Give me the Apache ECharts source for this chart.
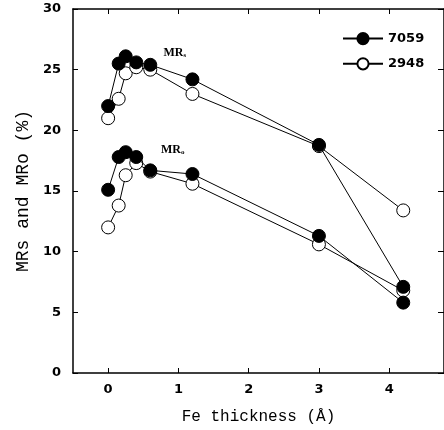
<!DOCTYPE html>
<html>
<head>
<meta charset="utf-8">
<script src="https://cdn.jsdelivr.net/npm/echarts@6/dist/echarts.min.js"></script>
<style>
html, body { margin: 0; padding: 0; background: #fff; }
#chart { width: 444px; height: 430px; }
</style>
</head>
<body>
<div id="chart"></div>
<script>
// Fe thickness (A) of the measured samples
var thickness = [0, 0.15, 0.25, 0.4, 0.6, 1.2, 3, 4.2];

// 7059 substrate
var mrs7059 = [22.0, 25.5, 26.1, 25.6, 25.4, 24.2, 18.8, 7.1];
var mro7059 = [15.1, 17.8, 18.2, 17.8, 16.7, 16.4, 11.3, 5.8];
// 2948 substrate
var mrs2948 = [21.0, 22.6, 24.7, 25.2, 25.0, 23.0, 18.7, 13.4];
var mro2948 = [12.0, 13.8, 16.3, 17.3, 16.6, 15.6, 10.6, 6.8];

var xTicks = [0, 1, 2, 3, 4];

function pairs(ys) {
    var out = [];
    for (var i = 0; i < thickness.length; i++) {
        out.push([thickness[i], ys[i]]);
    }
    return out;
}

var chart = echarts.init(document.getElementById('chart'));

var tickFont = {
    color: '#000',
    fontFamily: 'DejaVu Sans',
    fontWeight: 'bold',
    fontSize: 13
};

var frameLine = { show: true, onZero: false, lineStyle: { color: '#000', width: 1.5 } };

function openSeries(ys) {
    return {
        name: '2948',
        type: 'line',
        data: pairs(ys),
        symbol: 'circle',
        symbolSize: 13,
        showAllSymbol: true,
        lineStyle: { color: '#000', width: 1 },
        itemStyle: { color: '#fff', borderColor: '#000', borderWidth: 1 },
        z: 2,
        animation: false
    };
}

function filledSeries(ys) {
    return {
        name: '7059',
        type: 'line',
        data: pairs(ys),
        symbol: 'circle',
        symbolSize: 13,
        showAllSymbol: true,
        lineStyle: { color: '#000', width: 1 },
        itemStyle: { color: '#000', borderColor: '#000', borderWidth: 1 },
        z: 3,
        animation: false
    };
}

var option = {
    backgroundColor: '#fff',
    animation: false,
    grid: {
        left: 73,
        top: 9,
        right: -2,
        bottom: 54
    },
    legend: {
        data: ['7059', '2948'],
        orient: 'vertical',
        left: 337,
        top: 27,
        itemWidth: 40,
        itemHeight: 14,
        itemGap: 12,
        textStyle: {
            color: '#000',
            fontFamily: 'DejaVu Sans',
            fontWeight: 'bold',
            fontSize: 13
        }
    },
    xAxis: [{
        type: 'value',
        min: -0.5,
        max: 4.78,
        position: 'bottom',
        name: 'Fe thickness (Å)',
        nameLocation: 'middle',
        nameGap: 36,
        nameTextStyle: {
            color: '#000',
            fontFamily: 'Liberation Mono',
            fontSize: 16
        },
        axisLine: frameLine,
        axisTick: { inside: true, length: 5, customValues: xTicks, lineStyle: { color: '#000' } },
        axisLabel: Object.assign({ customValues: xTicks, margin: 10 }, tickFont),
        splitLine: { show: false }
    }, {
        type: 'value',
        min: -0.5,
        max: 4.78,
        position: 'top',
        axisLine: frameLine,
        axisTick: { inside: true, length: 5, customValues: xTicks, lineStyle: { color: '#000' } },
        axisLabel: { show: false },
        splitLine: { show: false }
    }],
    yAxis: [{
        type: 'value',
        min: 0,
        max: 30,
        interval: 5,
        position: 'left',
        name: 'MRs and MRo (%)',
        nameLocation: 'middle',
        nameGap: 35,
        nameTextStyle: {
            color: '#000',
            fontFamily: 'Liberation Mono',
            fontSize: 18
        },
        axisLine: frameLine,
        axisTick: { inside: true, length: 5, lineStyle: { color: '#000' } },
        axisLabel: Object.assign({ margin: 12 }, tickFont),
        splitLine: { show: false }
    }, {
        type: 'value',
        min: 0,
        max: 30,
        interval: 5,
        position: 'right',
        axisLine: frameLine,
        axisTick: { inside: true, length: 6, lineStyle: { color: '#000' } },
        axisLabel: { show: false },
        splitLine: { show: false }
    }],
    series: [
        openSeries(mrs2948),
        openSeries(mro2948),
        filledSeries(mrs7059),
        filledSeries(mro7059)
    ]
};

chart.setOption(option);

// MRs / MRo labels next to the two groups of curves
var labelFont = 'bold 12px "Liberation Serif"';
var subFont = 'bold 7px "Liberation Serif"';
var pS = chart.convertToPixel({ gridIndex: 0 }, [0.95, 26.4]);
var pO = chart.convertToPixel({ gridIndex: 0 }, [0.92, 18.4]);
chart.setOption({
    graphic: [{
        type: 'text',
        x: pS[0],
        y: pS[1],
        style: {
            text: '{m|MR}{s|s}',
            rich: {
                m: { font: labelFont, fill: '#000' },
                s: { font: subFont, fill: '#000', padding: [5, 0, 0, 0] }
            },
            align: 'center',
            verticalAlign: 'middle'
        }
    }, {
        type: 'text',
        x: pO[0],
        y: pO[1],
        style: {
            text: '{m|MR}{s|o}',
            rich: {
                m: { font: labelFont, fill: '#000' },
                s: { font: subFont, fill: '#000', padding: [5, 0, 0, 0] }
            },
            align: 'center',
            verticalAlign: 'middle'
        }
    }]
});

window.addEventListener('resize', function () {
    chart.resize();
});
</script>
</body>
</html>
